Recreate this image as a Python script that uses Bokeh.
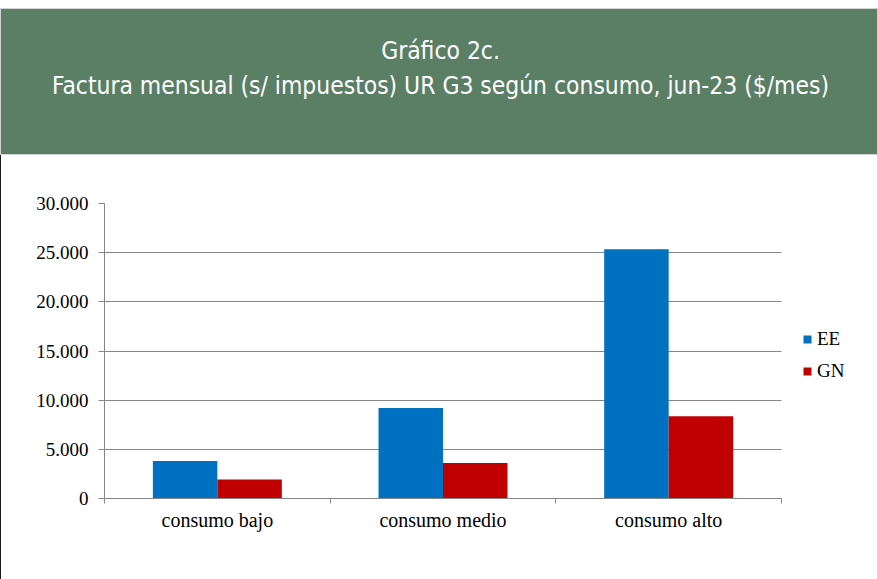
from bokeh.plotting import figure
from bokeh.models import Range1d, FixedTicker, Legend, LegendItem, ColumnDataSource
from bokeh.transform import dodge
from bokeh.embed import file_html
from bokeh.resources import INLINE
from bokeh.core.properties import value

# ---- data ----
title_lines = ["Gráfico 2c.",
               "Factura mensual (s/ impuestos) UR G3 según consumo, jun-23 ($/mes)"]
categories = ["consumo bajo", "consumo medio", "consumo alto"]
series_names = ["EE", "GN"]
ee_values = [3820, 9210, 25350]
gn_values = [1930, 3620, 8370]
y_ticks = [0, 5000, 10000, 15000, 20000, 25000, 30000]
y_tick_labels = ["0", "5.000", "10.000", "15.000", "20.000", "25.000", "30.000"]

# ---- styles ----
W = 878
HEAD_H = 155
CHART_H = 424
GREEN = "#5a7f65"
BLUE = "#0070c0"
RED = "#c00000"
GRID = "#868686"
SERIF = "Liberation Serif"
TITLE_FONT = "Liberation Sans Narrow, DejaVu Sans Condensed, Roboto Condensed, Roboto"

# ---- header ----
head = figure(width=W, height=HEAD_H, x_range=Range1d(0, W), y_range=Range1d(HEAD_H - 8, 0),
              output_backend="svg", toolbar_location=None,
              x_axis_location=None, y_axis_location=None,
              min_border_left=0, min_border_right=0, min_border_bottom=0, min_border_top=8)
head.grid.visible = False
head.outline_line_color = "#d4d4d4"
head.outline_line_width = 1
head.background_fill_color = GREEN
head.border_fill_color = "white"
head.text(x=[440, 440], y=[42, 77], text=title_lines,
          text_align="center", text_baseline="alphabetic", text_color="white",
          text_font=value(TITLE_FONT), text_font_size="24.4px")

# ---- chart ----
# the chart box has a thin dark rule on the left and a light rule on the right
PAD_L, BORDER_L, BORDER_R = 2, 1, 1
CW = W - PAD_L - BORDER_L - BORDER_R
n = len(categories)
cat_x = [i + 0.5 for i in range(n)]
src = ColumnDataSource(dict(x=cat_x, ee=ee_values, gn=gn_values))
bw = 1 / 3.5
LEFT = 104 - PAD_L - BORDER_L   # frame left edge inside the chart box
PLOT_W = 677                    # px width of the category area
x_end = n * (W - LEFT) / PLOT_W  # canvas is laid out at the box's outer width

p = figure(width=CW, height=CHART_H, x_range=Range1d(0, x_end), y_range=Range1d(0, 30000),
           output_backend="svg", toolbar_location=None,
           min_border_left=LEFT, min_border_right=0, min_border_top=48, min_border_bottom=81,
           styles={"box-sizing": "content-box",
                   "padding-left": f"{PAD_L}px",
                   "border-left": f"{BORDER_L}px solid #1a1a1a",
                   "border-right": f"{BORDER_R}px solid #d6d6d6"})
p.outline_line_color = None
p.background_fill_color = None
p.border_fill_color = None

r1 = p.vbar(x=dodge("x", -bw / 2, range=p.x_range), top="ee", width=bw, source=src,
            fill_color=BLUE, line_color=None)
r2 = p.vbar(x=dodge("x", bw / 2, range=p.x_range), top="gn", width=bw, source=src,
            fill_color=RED, line_color=None)

# y axis
p.yaxis.ticker = FixedTicker(ticks=y_ticks)
p.yaxis.major_label_overrides = {t: l for t, l in zip(y_ticks, y_tick_labels)}
p.yaxis.axis_line_color = GRID
p.yaxis.major_tick_line_color = GRID
p.yaxis.major_tick_out = 6
p.yaxis.major_tick_in = 0
p.yaxis.minor_tick_line_color = None
p.yaxis.major_label_standoff = 10
p.yaxis.major_label_text_font = SERIF
p.yaxis.major_label_text_font_size = "19px"
p.yaxis.major_label_text_color = "black"

# x axis
p.xaxis.bounds = (0, n)
p.xaxis.ticker = FixedTicker(ticks=cat_x, minor_ticks=list(range(n + 1)))
p.xaxis.major_label_overrides = {x: c for x, c in zip(cat_x, categories)}
p.xaxis.axis_line_color = GRID
p.xaxis.major_tick_line_color = None
p.xaxis.major_tick_out = 0
p.xaxis.major_tick_in = 0
p.xaxis.minor_tick_line_color = GRID
p.xaxis.minor_tick_out = 5
p.xaxis.minor_tick_in = 0
p.xaxis.major_label_standoff = 5
p.xaxis.major_label_text_font = SERIF
p.xaxis.major_label_text_font_size = "20px"
p.xaxis.major_label_text_color = "black"

# grid
p.xgrid.visible = False
try:
    p.ygrid.cross_bounds = (0, n)
    p.ygrid.ticker = FixedTicker(ticks=y_ticks)
    p.ygrid.grid_line_color = GRID
    p.ygrid.grid_line_width = 1
except AttributeError:
    p.ygrid.visible = False
    p.segment(x0=0, x1=n, y0=y_ticks, y1=y_ticks, line_color=GRID, line_width=1, level="underlay")

legend = Legend(items=[LegendItem(label=series_names[0], renderers=[r1]),
                       LegendItem(label=series_names[1], renderers=[r2])],
                location=(698, 116), glyph_width=10, glyph_height=10, padding=0,
                spacing=10, label_standoff=5, border_line_color=None,
                background_fill_alpha=0, label_text_font=SERIF,
                label_text_font_size="19px", label_text_color="black", margin=0)
p.add_layout(legend, "center")

open("out.html", "w").write(file_html([head, p], INLINE))
